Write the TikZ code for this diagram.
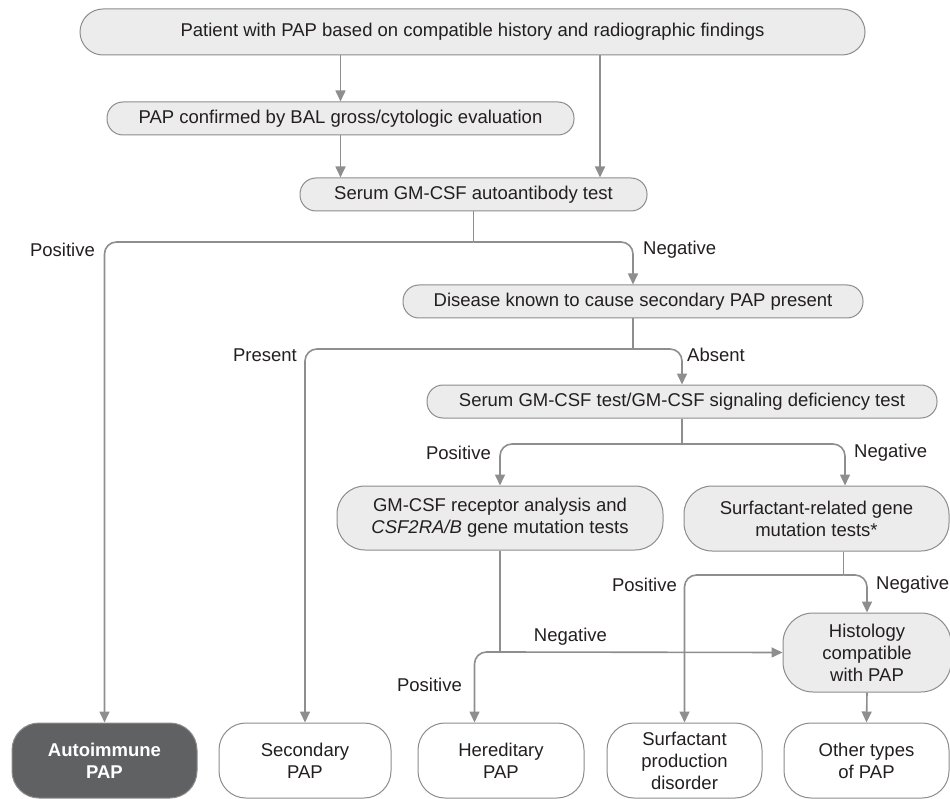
\documentclass[tikz,border=0pt]{standalone}
\usepackage{fontspec}
\setmainfont{Liberation Sans}
\usetikzlibrary{arrows.meta}
\definecolor{boxfill}{HTML}{ECECEC}
\definecolor{boxline}{HTML}{8C8C8C}
\definecolor{conn}{HTML}{8E8E8E}
\definecolor{darkfill}{HTML}{606163}
\definecolor{txt}{HTML}{231F20}
\tikzset{
  every node/.style={font=\fontsize{18.5}{22}\selectfont, text=txt},
  graybox/.style={draw=boxline, fill=boxfill, line width=1pt, inner sep=0pt, align=center},
  whitebox/.style={draw=boxline, fill=white, line width=1pt, inner sep=0pt, align=center, rounded corners=27pt},
  darkbox/.style={draw=boxline, fill=darkfill, line width=1pt, inner sep=0pt, align=center, rounded corners=27pt, text=white, font=\fontsize{18.5}{22}\selectfont\bfseries},
  lbl/.style={inner sep=0pt},
  conline/.style={draw=conn, line width=1.6pt},
  arr/.style={conline, -{Triangle[length=11pt,width=10pt]}},
}
\begin{document}
\begin{tikzpicture}[x=1pt,y=-1pt]
\useasboundingbox (0,0) rectangle (950,799);

% boxes
\node[graybox, minimum width=785pt, minimum height=46pt, rounded corners=23pt] (top) at (472.5,32) {Patient with PAP based on compatible history and radiographic findings};
\node[graybox, minimum width=467pt, minimum height=33pt, rounded corners=16pt] (conf) at (340.5,118.5) {PAP confirmed by BAL gross/cytologic evaluation};
\node[graybox, minimum width=347pt, minimum height=33pt, rounded corners=16pt] (serum) at (473.5,194.5) {Serum GM-CSF autoantibody test};
\node[graybox, minimum width=460pt, minimum height=33pt, rounded corners=16pt] (disease) at (633,301.5) {Disease known to cause secondary PAP present};
\node[graybox, minimum width=510pt, minimum height=33pt, rounded corners=16pt] (sertest) at (682,401.5) {Serum GM-CSF test/GM-CSF signaling deficiency test};
\node[graybox, minimum width=326pt, minimum height=64pt, rounded corners=28pt] (recep) at (500,518) {GM-CSF receptor analysis and\\\textit{CSF2RA/B} gene mutation tests};
\node[graybox, minimum width=265pt, minimum height=65pt, rounded corners=28pt] (surf) at (816.5,518.5) {Surfactant-related gene\\mutation tests*};
\node[graybox, minimum width=168pt, minimum height=79pt, rounded corners=30pt] (hist) at (867,652.5) {Histology\\compatible\\with PAP};

\node[darkbox, minimum width=185pt, minimum height=75pt] (auto) at (104.5,760.5) {Autoimmune\\PAP};
\node[whitebox, minimum width=172pt, minimum height=75pt] (sec) at (305,760.5) {Secondary\\PAP};
\node[whitebox, minimum width=166pt, minimum height=75pt] (her) at (501,760.5) {Hereditary\\PAP};
\node[whitebox, minimum width=155pt, minimum height=75pt] (sprod) at (684.5,760.5) {Surfactant\\production\\disorder};
\node[whitebox, minimum width=165pt, minimum height=75pt] (other) at (866.5,760.5) {Other types\\of PAP};

% junction coordinates
\coordinate (c1) at (600,0);
\coordinate (j1) at (473.5,242);
\coordinate (j2) at (633,349);
\coordinate (j3) at (682,444);
\coordinate (c2) at (845,0);
\coordinate (j4) at (843.6,575);
\coordinate (j5) at (500,652);
\coordinate (c3) at (474.5,0);

% connectors
\draw[arr] (conf.north |- top.south) -- (conf.north);
\draw[arr] (c1 |- top.south) -- (c1 |- serum.north);
\draw[arr] (conf.south) -- (conf.south |- serum.north);

\draw[conline] (serum.south) -- (j1);
\draw[arr, rounded corners=12pt] (j1) -| (auto.north);
\draw[arr, rounded corners=12pt] (j1) -| (disease.north);

\draw[conline] (disease.south) -- (j2);
\draw[arr, rounded corners=12pt] (j2) -| (sec.north);
\draw[arr, rounded corners=12pt] (j2) -| (sertest.north);

\draw[conline] (sertest.south) -- (j3);
\draw[arr, rounded corners=12pt] (j3) -| (recep.north);
\draw[arr, rounded corners=12pt] (j3) -| (c2 |- surf.north);

\draw[conline] (j4 |- surf.south) -- (j4);
\draw[arr, rounded corners=12pt] (j4) -| (sprod.north);
\draw[arr, rounded corners=12pt] (j4) -| (hist.north);

\draw[conline] (recep.south) -- (j5);
\draw[arr] (j5) -- (hist.west);
\draw[arr, rounded corners=12pt] (j5) -| (c3 |- her.north);

\draw[arr] (hist.south) -- (other.north);

% labels
\node[lbl, anchor=east] (l1) at (95,250) {Positive};
\node[lbl, anchor=west] (l2) at (643,250) {Negative};
\node[lbl, anchor=east] (l3) at (297,355) {Present};
\node[lbl, anchor=west] (l4) at (687,355) {Absent};
\node[lbl, anchor=east] (l5) at (491,452.5) {Positive};
\node[lbl, anchor=west] (l6) at (854,452.5) {Negative};
\node[lbl, anchor=east] (l7) at (677,585) {Positive};
\node[lbl, anchor=west] (l8) at (876,585) {Negative};
\node[lbl] (l9) at (570.5,636.5) {Negative};
\node[lbl, anchor=east] (l10) at (462,685) {Positive};
\end{tikzpicture}
\end{document}
